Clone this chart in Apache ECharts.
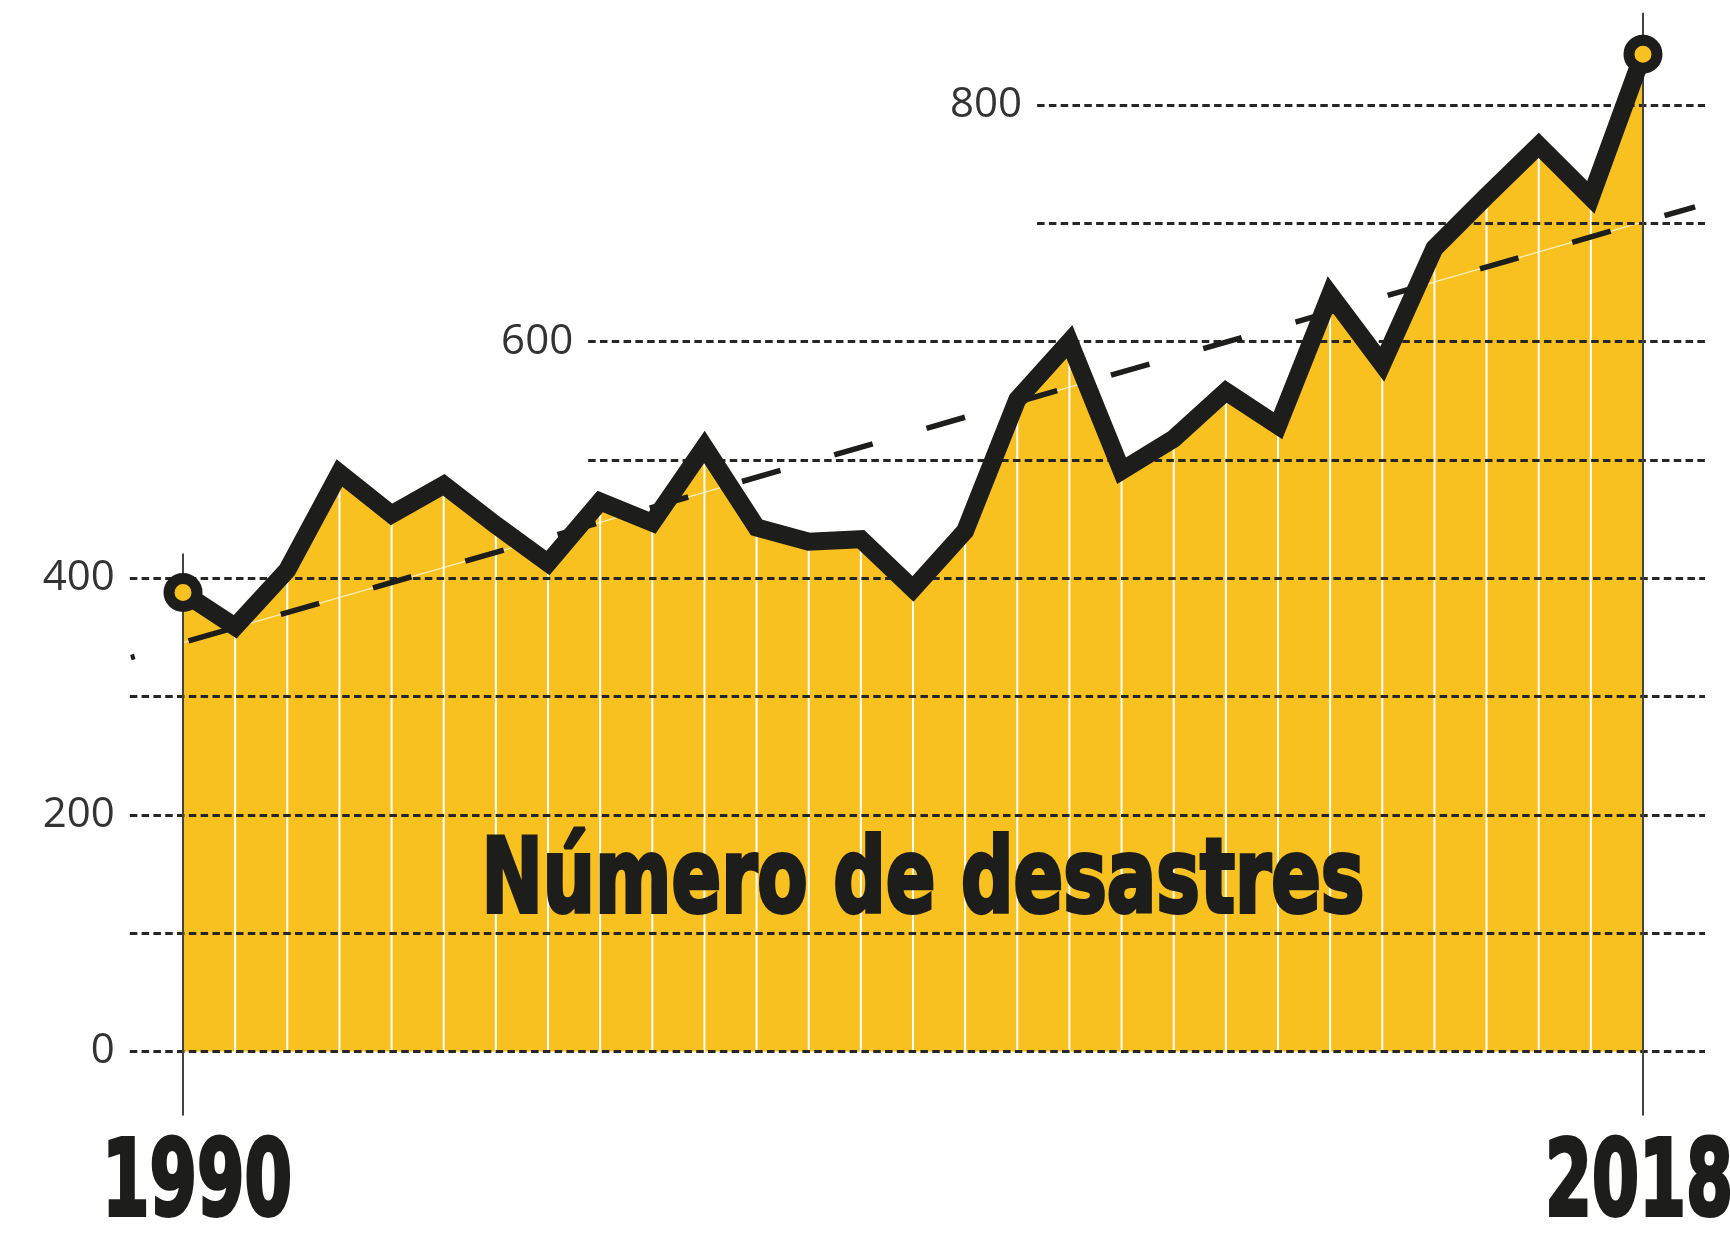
<!DOCTYPE html>
<html><head><meta charset="utf-8">
<script src="https://cdn.jsdelivr.net/npm/echarts@6/dist/echarts.min.js"></script>
<style>html,body{margin:0;padding:0;background:#fff}#c{width:1730px;height:1234px}</style>
</head><body><div id="c"></div>
<script>
const years = [1990,1991,1992,1993,1994,1995,1996,1997,1998,1999,2000,2001,2002,2003,2004,2005,2006,2007,2008,2009,2010,2011,2012,2013,2014,2015,2016,2017,2018];
const disasters = [388,359,407,489,454,479,445,413,465,447,511,443,431,433,391,440,551,600,491,518,558,529,640,581,679,723,766,722,843];
const trendYears = [1989, 2019];
const trendValues = [333, 714];
const gridValues = [0,100,200,300,400,500,600,700,800];
const yTickLabels = [0,200,400,600,800];
const xTickLabels = [1990, 2018];
const titleText = 'Número de desastres';

const YELLOW = '#F8C11F', INK = '#1d1d1b';
const HEAVY = '"DejaVu Sans", sans-serif';
function guideStart(v){ return v <= 400 ? 1988.98 : (v <= 600 ? 1997.77 : 2006.38); }
const guideEnd = 2019.19;

const pts = years.map((y,i)=>[y, disasters[i]]);
const inner = pts.slice(1, -1);
const ends = [pts[0], pts[pts.length-1]];
const trendPts = trendYears.map((y,i)=>[y, trendValues[i]]);

const guideLines = gridValues.map(v => [
  {coord:[guideStart(v), v], name: yTickLabels.indexOf(v) >= 0 ? String(v) : ''},
  {coord:[guideEnd, v]}
]);
const axisLines = [
  [{coord:[years[0], -54]}, {coord:[years[0], 421]}],
  [{coord:[years[years.length-1], -54]}, {coord:[years[years.length-1], 878]}]
];

const mctx = document.createElement('canvas').getContext('2d');
function widthOf(text, size){ mctx.font = 'bold ' + size + 'px ' + HEAVY; return mctx.measureText(text).width; }
function condensedText(text, cx, cy, size, targetW){
  const s = targetW / widthOf(text, size);
  return {type:'text', x:cx, y:cy, scaleX:s, scaleY:1, z:20, silent:true,
    style:{text:text, fill:INK, stroke:INK, lineWidth:4, fontSize:size, fontWeight:'bold',
      fontFamily:HEAVY, align:'center', verticalAlign:'middle'}};
}

const chart = echarts.init(document.getElementById('c'), null, {renderer:'canvas', width:1730, height:1234});
chart.setOption({
  animation:false,
  backgroundColor:'#fff',
  grid:{left:104.8, right:8.8, top:10.5, bottom:64.2, containLabel:false, outerBoundsMode:'none'},
  xAxis:{type:'value', min:1988.5, max:2019.5, show:true,
    axisLine:{show:false, onZero:false}, axisTick:{show:false}, splitLine:{show:false}, axisLabel:{show:false}},
  yAxis:{type:'value', min:-100, max:880, show:false, splitLine:{show:false}},
  series:[
    {type:'line', data:pts, symbol:'none', z:1, silent:true,
      lineStyle:{width:0, opacity:0}, areaStyle:{color:YELLOW, opacity:1}},
    {type:'bar', data:inner, barWidth:2, z:2, silent:true, itemStyle:{color:'#ffffff'}},
    {type:'line', data:trendPts, symbol:'none', z:3, silent:true,
      lineStyle:{color:'#ffffff', width:1.2, opacity:0.7}},
    {type:'line', data:[], symbol:'none', silent:true,
      markLine:{silent:true, symbol:['none','none'], z:5, animation:false,
        lineStyle:{color:'#262626', width:3, type:[7.5,4.3]},
        label:{show:true, position:'start', distance:15, formatter:p=>p.name,
          fontFamily:'Open Sans', fontSize:42, color:'#333333'},
        emphasis:{disabled:true},
        data:guideLines}},
    {type:'line', data:[], symbol:'none', silent:true,
      markLine:{silent:true, symbol:['none','none'], z:5, animation:false,
        lineStyle:{color:'#444444', width:2, type:'solid'},
        label:{show:false}, emphasis:{disabled:true},
        data:axisLines}},
    {type:'line', data:trendPts, symbol:'none', z:7, silent:true,
      lineStyle:{color:INK, width:5.5, type:[40,56], dashOffset:36}},
    {type:'line', data:pts, symbol:'none', z:8, silent:true,
      lineStyle:{color:INK, width:18, join:'miter'}},
    {type:'scatter', data:ends, z:9, silent:true, symbol:'circle', symbolSize:28,
      itemStyle:{color:YELLOW, borderColor:INK, borderWidth:11, opacity:1}}
  ]
});

const x0 = chart.convertToPixel({gridIndex:0}, [xTickLabels[0], 0])[0];
const x1 = chart.convertToPixel({gridIndex:0}, [xTickLabels[1], 0])[0];
chart.setOption({graphic:[
  condensedText(titleText, 923, 885, 103, 883),
  condensedText(String(xTickLabels[0]), x0 + 14, 1188, 105, 190),
  condensedText(String(xTickLabels[1]), x1 - 4, 1188, 105, 188)
]});
</script></body></html>
